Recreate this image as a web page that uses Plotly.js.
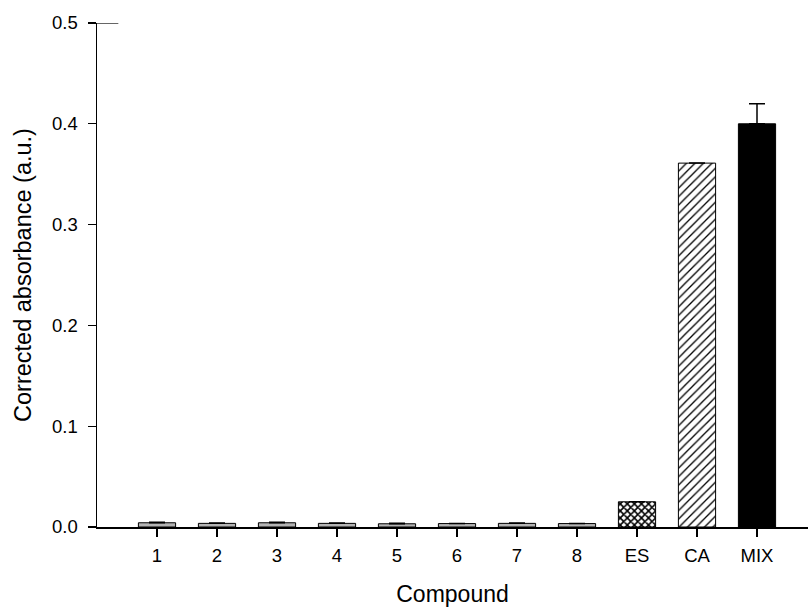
<!DOCTYPE html>
<html>
<head>
<meta charset="utf-8">
<script src="https://cdn.plot.ly/plotly-3.0.1.min.js"></script>
<style>html,body{margin:0;padding:0;background:#fff;}#chart{width:808px;height:607px;}</style>
</head>
<body>
<div id="chart"></div>
<script>
const categories = ["1", "2", "3", "4", "5", "6", "7", "8", "ES", "CA", "MIX"];
const absorbance = [0.0042, 0.0036, 0.0042, 0.0036, 0.0032, 0.0034, 0.0036, 0.0034, 0.025, 0.361, 0.400];
const errorUp = [0.0005, 0.0004, 0.0005, 0.0004, 0.0004, 0.0, 0.0004, 0.0, 0.0, 0.0, 0.020];
const yTickVals = [0, 0.1, 0.2, 0.3, 0.4, 0.5];

function styleFor(c) {
  if (c === "MIX") return {key: "solid", color: "#000000", pattern: null};
  if (c === "ES") return {key: "cross", color: "#ffffff", pattern: {shape: "x", fgcolor: "#000000", bgcolor: "#ffffff", size: 5, solidity: 0.55}};
  if (c === "CA") return {key: "hatch", color: "#ffffff", pattern: {shape: "/", fgcolor: "#000000", bgcolor: "#ffffff", size: 6, solidity: 0.22}};
  return {key: "gray", color: "#b4b4b4", pattern: null};
}

const groups = {};
categories.forEach((c, i) => {
  const s = styleFor(c);
  if (!groups[s.key]) groups[s.key] = {style: s, idx: []};
  groups[s.key].idx.push(i);
});

const traces = Object.values(groups).map(g => {
  const marker = {color: g.style.color, line: {color: "#000000", width: 1}};
  if (g.style.pattern) marker.pattern = g.style.pattern;
  return {
    type: "bar",
    x: g.idx.map(i => categories[i]),
    y: g.idx.map(i => absorbance[i]),
    width: 0.62,
    marker: marker,
    error_y: {
      type: "data",
      symmetric: false,
      array: g.idx.map(i => errorUp[i]),
      arrayminus: g.idx.map(() => 0),
      color: "#000000",
      thickness: 1.5,
      width: 8,
      visible: true
    },
    hoverinfo: "skip"
  };
});

const font = {family: "Liberation Sans, Arial, sans-serif", color: "#000000"};

const layout = {
  width: 808,
  height: 607,
  margin: {l: 97, r: 0, t: 23, b: 80},
  paper_bgcolor: "#ffffff",
  plot_bgcolor: "#ffffff",
  showlegend: false,
  barmode: "overlay",
  font: Object.assign({size: 18}, font),
  xaxis: {
    type: "category",
    categoryorder: "array",
    categoryarray: categories,
    range: [-1, 10.85],
    showline: true,
    linecolor: "#000000",
    linewidth: 1.5,
    ticks: "outside",
    ticklen: 8,
    tickwidth: 1.2,
    tickcolor: "#000000",
    showgrid: false,
    zeroline: false,
    automargin: false,
    ticklabelstandoff: 3,
    tickfont: Object.assign({size: 18.5}, font),
    title: {text: "Compound", font: Object.assign({size: 23}, font), standoff: 23}
  },
  yaxis: {
    range: [0, 0.5],
    tickvals: yTickVals,
    tickformat: ".1f",
    showline: true,
    linecolor: "#000000",
    linewidth: 1.5,
    ticks: "outside",
    ticklen: 8,
    tickwidth: 1.2,
    tickcolor: "#000000",
    showgrid: false,
    zeroline: false,
    automargin: false,
    ticklabelstandoff: 6,
    tickfont: Object.assign({size: 18.5}, font),
    title: {text: "Corrected absorbance (a.u.)", font: Object.assign({size: 23.5}, font), standoff: 14}
  },
  shapes: [
    {type: "line", xref: "paper", yref: "y", x0: 0, x1: 0.03, y0: 0.5, y1: 0.5, line: {color: "#000000", width: 1.2}}
  ]
};

Plotly.newPlot("chart", traces, layout, {displayModeBar: false, staticPlot: true});
</script>
</body>
</html>
